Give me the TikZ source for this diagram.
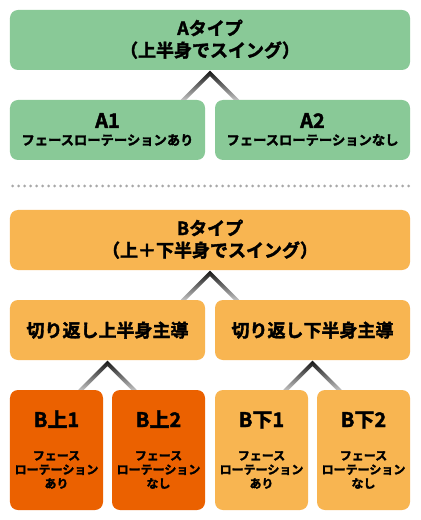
\documentclass[tikz,border=0pt]{standalone}
\usepackage{fontspec}
\setmainfont{Noto Sans CJK JP}[BoldFont={Noto Sans CJK JP Bold}, BoldFeatures={FakeBold=2}]
\usetikzlibrary{calc}
\definecolor{grn}{HTML}{89C997}
\definecolor{org}{HTML}{F8B551}
\definecolor{dorg}{HTML}{EB6100}
\definecolor{dotc}{HTML}{A8A8A8}
\tikzset{
  box/.style={rounded corners=8bp, inner sep=0pt},
  wide/.style={box, minimum width=400bp, minimum height=60bp},
  half/.style={box, minimum width=195bp, minimum height=60bp},
  quarter/.style={box, minimum width=93bp, minimum height=120bp},
  txt/.style={anchor=base, inner sep=0pt, text=black, font=\bfseries},
  ttl/.style={txt, font=\bfseries\fontsize{18bp}{20bp}\selectfont},
  big/.style={txt, font=\bfseries\fontsize{20bp}{20bp}\selectfont},
  sub/.style={txt, font=\bfseries\fontsize{13.3bp}{15bp}\selectfont},
  small/.style={txt, font=\bfseries\fontsize{12bp}{14bp}\selectfont},
  conn/.style={top color=black!92, bottom color=black!25},
  sep/.style={dotc, line width=3bp, line cap=round, dash pattern=on 0bp off 6bp}
}
% inverted V connector: parent, one child
\newcommand{\vconn}[2]{%
  \path[conn] let \p1=(#1.south), \p2=(#2.north), \n1={\y1-\y2} in
    (\x1,\y1-0.5pt) -- (\x1-\n1+0.5pt,\y2) -- (\x1-\n1+6pt,\y2) -- (\x1,\y1-6pt)
    -- (\x1+\n1-6pt,\y2) -- (\x1+\n1-0.5pt,\y2) -- cycle;}
\begin{document}
\begin{tikzpicture}[x=1bp,y=-1bp]
\useasboundingbox[fill=white] (0,0) rectangle (420,520);
% A
\node[wide, fill=grn] (A) at (210,40) {};
\node[ttl] (At1) at (210,35) {Aタイプ};
\node[ttl] (At2) at (210,57) {（上半身でスイング）};
\node[half, fill=grn] (A1) at (107.5,130) {};
\node[big] (A1t1) at (107.5,128) {A1};
\node[sub] (A1t2) at (107.5,145) {フェースローテーションあり};
\node[half, fill=grn] (A2) at (312.5,130) {};
\node[big] (A2t1) at (312.5,128) {A2};
\node[sub] (A2t2) at (312.5,145) {フェースローテーションなし};
\vconn{A}{A1}
% separator
\coordinate (s1) at (12.5,186);
\coordinate (s2) at (410,186);
\draw[sep] (s1) -- (s2);
% B
\node[wide, fill=org] (B) at (210,240) {};
\node[ttl] (Bt1) at (210,235) {Bタイプ};
\node[ttl] (Bt2) at (210,257) {（上＋下半身でスイング）};
\node[half, fill=org] (BU) at (107.5,330) {};
\node[ttl] (BUt) at (107.5,337) {切り返し上半身主導};
\node[half, fill=org] (BD) at (312.5,330) {};
\node[ttl] (BDt) at (312.5,337) {切り返し下半身主導};
\vconn{B}{BU}
% bottom row
\foreach \nm/\cx/\col/\lab/\last in {BU1/56.5/dorg/B上1/あり, BU2/158.5/dorg/B上2/なし, BD1/261.5/org/B下1/あり, BD2/363.5/org/B下2/なし}{
  \node[quarter, fill=\col] (\nm) at (\cx,450) {};
  \node[big] (\nm t1) at (\cx,427) {\lab};
  \node[small] (\nm t2) at (\cx,460) {フェース};
  \node[small] (\nm t3) at (\cx,474) {ローテーション};
  \node[small] (\nm t4) at (\cx,488) {\last};
}
\vconn{BU}{BU1}
\vconn{BD}{BD1}
\end{tikzpicture}
\end{document}
